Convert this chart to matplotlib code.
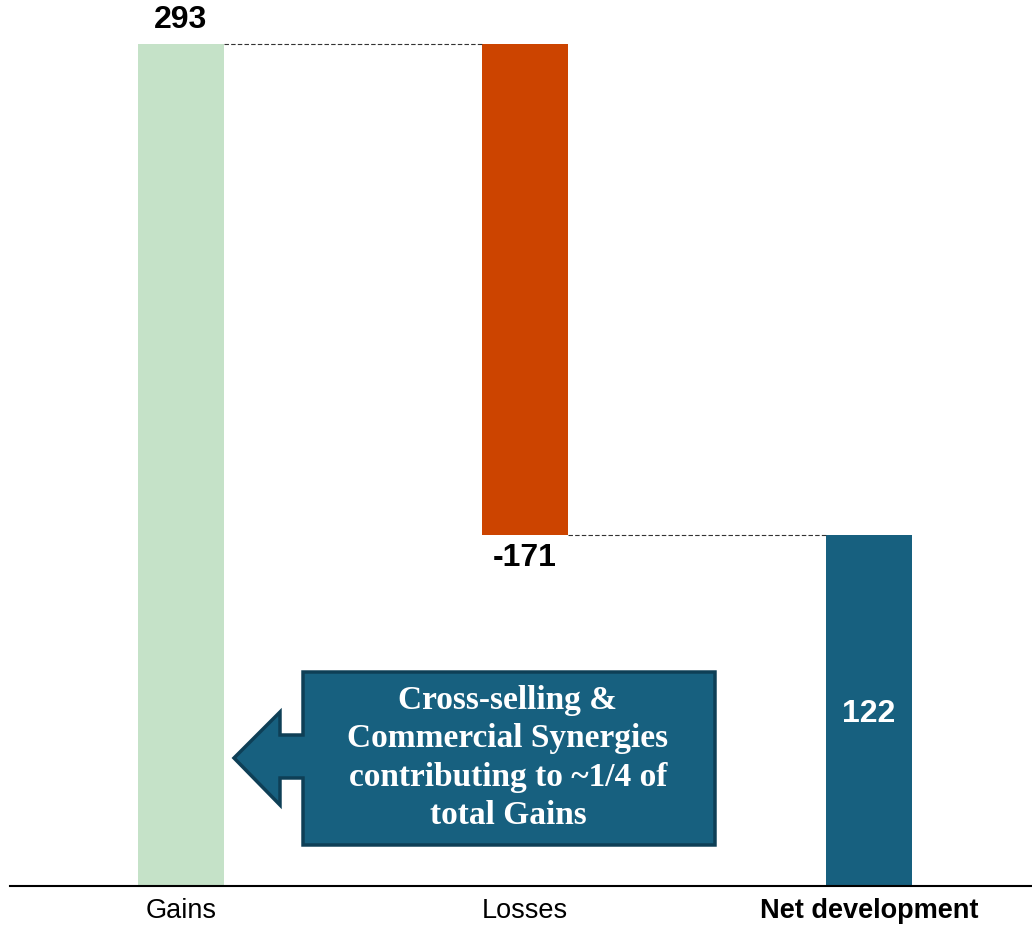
import matplotlib.pyplot as plt
from matplotlib.patches import Polygon

categories = ["Gains", "Losses", "Net development"]
values = [293, -171, 122]
colors = ["#c5e2c8", "#cc4400", "#17607f"]

W, H = 1032, 931
fig = plt.figure(figsize=(W / 100, H / 100), dpi=100)
ax = fig.add_axes([10 / W, 45 / H, 1022 / W, 886 / H])

# waterfall bottoms: gains from 0, losses hang from the gains total, net from 0
gains, losses, net = values
bottoms = [0, gains + losses, 0]
heights = [gains, -losses, net]
xs = list(range(len(categories)))
width = 0.25

ax.bar(xs, heights, bottom=bottoms, width=width, color=colors, zorder=2)

# dashed connectors between bars
ax.plot([xs[0] + width / 2, xs[1] - width / 2], [gains, gains],
        ls=(0, (4, 2)), color="#333333", lw=0.8)
ax.plot([xs[1] + width / 2, xs[2] - width / 2], [gains + losses, gains + losses],
        ls=(0, (4, 2)), color="#333333", lw=0.8)

lab_font = dict(family="Liberation Sans", fontsize=23, fontweight="bold")
ax.text(xs[0], gains + 8.2, f"{gains}", ha="center", va="center", color="black", **lab_font)
ax.text(xs[1], gains + losses - 8, f"{losses}", ha="center", va="center", color="black", **lab_font)
ax.text(xs[2], net / 2 - 1.3, f"{net}", ha="center", va="center", color="white", **lab_font)

ax.set_xlim(-0.497, 2.474)
ax.set_ylim(0, 308.3)
ax.set_yticks([])
ax.set_xticks(xs)
ax.set_xticklabels(categories, family="Liberation Sans", fontsize=19.5)
ax.get_xticklabels()[2].set_fontweight("bold")
ax.tick_params(axis="x", length=0, pad=9)
for s in ["top", "right", "left"]:
    ax.spines[s].set_visible(False)
ax.spines["bottom"].set_linewidth(1.5)

# left-pointing callout arrow
pts_px = [(303, 672), (715, 672), (715, 845), (303, 845), (303, 778),
          (280, 778), (280, 805), (234, 758), (280, 712), (280, 735), (303, 735)]
pts = [(x / W, 1 - y / H) for x, y in pts_px]
fig.patches.append(Polygon(pts, closed=True, transform=fig.transFigure,
                           facecolor="#17607f", edgecolor="#0e3f56", lw=2.5))
fig.text(508 / W, 1 - 758 / H,
         "Cross-selling &\nCommercial Synergies\ncontributing to ~1/4 of\ntotal Gains",
         ha="center", va="center", color="white", family="Liberation Serif",
         fontweight="bold", fontsize=24, linespacing=1.3)

fig.savefig("out.png", dpi=100)
